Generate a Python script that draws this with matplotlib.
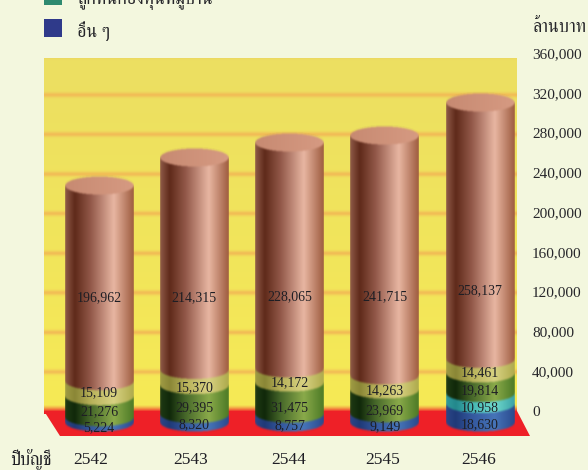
import numpy as np
import matplotlib
matplotlib.use('Agg')
import matplotlib.pyplot as plt
import matplotlib.colors as mcolors
from matplotlib.patches import Polygon, Rectangle

years = ['2542', '2543', '2544', '2545', '2546']
others = [5224, 8320, 8757, 9149, 18630]
village_fund = [0, 0, 0, 0, 10958]
green_part = [21276, 29395, 31475, 23969, 19814]
khaki_part = [15109, 15370, 14172, 14263, 14461]
copper_part = [196962, 214315, 228065, 241715, 258137]
ticks = [0, 40000, 80000, 120000, 160000, 200000, 240000, 280000, 320000, 360000]

# pixel layout of the picture
W, H = 588, 470
X0, DX = 99, 95.25
Y0 = 423
PX = 39.7 / 40000
HALF = 0.362
ELL = 9 / PX
DEPTH = 11 / PX

# left edge, dark, mid, light, right edge of the cylinder shading
shade_u = [-1.0, -0.72, -0.25, 0.42, 1.0]
shades = [
    ['#2c4688', '#1f3a78', '#34589e', '#4674b8', '#2a4a8e'],
    ['#2f9a9c', '#23888c', '#45b8b4', '#6ed8cc', '#3aa2a6'],
    ['#1f3a14', '#10280a', '#47682a', '#8aaa4a', '#4c7a26'],
    ['#a09c44', '#8a8636', '#b8b25a', '#d8d282', '#aeaa4c'],
    ['#8e5a48', '#5f2a1a', '#93594a', '#e8b6a2', '#9e5c3f'],
]

thai_serif = ['FreeSerif', 'Liberation Serif']
plt.rcParams['font.family'] = ['Liberation Serif', 'FreeSerif']


def xu(px):
    return (px - X0) / DX


def yu(px):
    return (Y0 - px) / PX


fig = plt.figure(figsize=(W / 100, H / 100), dpi=100, facecolor='#f3f7de')
ax = fig.add_axes([0, 0, 1, 1])
ax.set_facecolor('#f3f7de')
ax.axis('off')

# back wall
wall_y = np.linspace(yu(414), yu(58), 360)
wall = np.zeros((360, 1, 3))
base = np.array(mcolors.to_rgb('#f6ea55'))
top = np.array(mcolors.to_rgb('#ecdf62'))
band = np.array(mcolors.to_rgb('#f2b955'))
red = np.array(mcolors.to_rgb('#ee2027'))
for i, v in enumerate(wall_y):
    c = base + (top - base) * (i / 359)
    for t in ticks[1:]:
        w = np.exp(-((v - t - DEPTH) / 2400) ** 2)
        c = c + (band - c) * w * 0.9
    r = np.clip((yu(405) - v) / (yu(405) - yu(412)), 0, 1)
    wall[i, 0] = c + (red - c) * r ** 1.5
ax.imshow(wall, extent=[xu(44), xu(517), yu(414), yu(58)], origin='lower', aspect='auto', zorder=1)

# floor
ax.add_patch(Polygon([(xu(44), yu(411)), (xu(60), yu(436)), (xu(530), yu(436)), (xu(517), yu(411))],
                     closed=True, facecolor='#ee2027', edgecolor='none', zorder=2))

# shading tables
table = []
uu = np.linspace(-1, 1, 140)
for sh in shades:
    rgb = np.array([mcolors.to_rgb(c) for c in sh])
    table.append(np.stack([np.interp(uu, shade_u, rgb[:, k]) for k in range(3)], axis=1))
cap_rgb = np.array(mcolors.to_rgb('#c78a72'))
cap_hi = np.array(mcolors.to_rgb('#d69a82'))

kernel_v = np.array([1, 2, 3, 4, 3, 2, 1]) / 16.0
kernel_h = np.array([1, 2, 3, 2, 1]) / 9.0


def soften(a):
    a = np.apply_along_axis(lambda m: np.convolve(m, kernel_v, mode='same'), 0, a)
    return np.apply_along_axis(lambda m: np.convolve(m, kernel_h, mode='same'), 1, a)


for i in range(len(years)):
    parts = [others[i], village_fund[i], green_part[i], khaki_part[i], copper_part[i]]
    cum = np.cumsum(parts)
    total = cum[-1]
    lo, hi = -ELL * 1.25, total + ELL * 1.25
    ny = int((hi - lo) * PX * 2)
    yy = np.linspace(lo, hi, ny)
    img = np.zeros((ny, len(uu), 4))
    for j, u in enumerate(uu):
        arc = ELL * np.sqrt(1 - u ** 2)
        idx = np.clip(np.searchsorted(cum - arc, yy), 0, 4)
        for s in range(5):
            img[idx == s, j, :3] = table[s][j]
        img[:, j, 3] = ((yy >= -arc) & (yy <= total + arc)).astype(float)
        cap = (yy >= total - arc) & (yy <= total + arc)
        img[cap, j, :3] = cap_rgb + (cap_hi - cap_rgb) * (u + 1) / 2
    # premultiplied blur, the source is a soft scan
    img[:, :, :3] *= img[:, :, 3:4]
    for k in range(4):
        img[:, :, k] = soften(img[:, :, k])
    a = np.clip(img[:, :, 3:4], 1e-4, 1)
    img[:, :, :3] = np.clip(img[:, :, :3] / a, 0, 1)
    ax.imshow(img, extent=[i - HALF, i + HALF, lo, hi], origin='lower', aspect='auto',
              interpolation='bilinear', zorder=3)

# value labels, pixel rows
label_rows = [
    [428, 425, 426, 427, 425],
    [None, None, None, None, 408],
    [412, 408, 408, 411, 391],
    [393, 388, 383, 391, 373],
    [298, 298, 297, 297, 291],
]
series = [others, village_fund, green_part, khaki_part, copper_part]
for vals, rows in zip(series, label_rows):
    for i, (v, r) in enumerate(zip(vals, rows)):
        if r is None:
            continue
        ax.text(i, yu(r), f'{v:,}', ha='center', va='center', fontsize=10, color='#1e1e24', zorder=5)

# value axis on the right
for t in ticks:
    ax.text(xu(532), t + DEPTH, f'{t:,}', ha='left', va='center', fontsize=11, color='#26262a', zorder=5)
ax.text(xu(532), yu(27), 'ล้านบาท', ha='left', va='center', fontsize=13, color='#26262a', family=thai_serif)

# years
year_cols = [91, 191, 289, 383, 479]
for y, c in zip(years, year_cols):
    ax.text(xu(c), yu(460), y, ha='center', va='center', fontsize=12.5, color='#1e1e24')
ax.text(xu(10), yu(459), 'ปีบัญชี', ha='left', va='center', fontsize=13, color='#1e1e24', family=thai_serif)

# legend, first entry runs off the top of the picture
ax.add_patch(Rectangle((xu(44), yu(5)), 18 / DX, 18 / PX, facecolor='#2e8a70', edgecolor='none', zorder=4))
ax.add_patch(Rectangle((xu(44), yu(37)), 18 / DX, 18 / PX, facecolor='#2f3a8a', edgecolor='none', zorder=4))
ax.text(xu(77), yu(-2), 'ลูกหนี้กองทุนหมู่บ้าน', ha='left', va='center', fontsize=13, color='#26262a', family=thai_serif)
ax.text(xu(77), yu(31), 'อื่น ๆ', ha='left', va='center', fontsize=13, color='#26262a', family=thai_serif)

ax.set_xlim(xu(0), xu(W))
ax.set_ylim(yu(H), yu(0))
fig.savefig('out.png', dpi=100, facecolor=fig.get_facecolor())
